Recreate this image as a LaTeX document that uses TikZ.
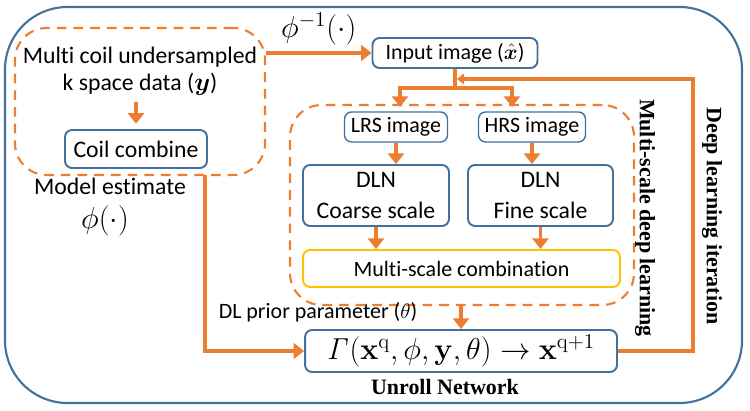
\documentclass[tikz,border=0pt]{standalone}
\usepackage{amsmath}
\usepackage{amssymb}
\usepackage{bm}
\usepackage[no-math]{fontspec}
\setmainfont{Carlito}[Ligatures=NoCommon]
\newfontfamily\tnr{Liberation Serif}
\usetikzlibrary{arrows.meta}
\definecolor{bblue}{RGB}{65,113,156}
\definecolor{orng}{RGB}{237,125,49}
\definecolor{ylw}{RGB}{255,192,0}
\tikzset{
  box/.style={draw=bblue,line width=1.1pt,rounded corners=4pt,align=center,inner sep=0pt},
  dbox/.style={draw=orng,line width=1.2pt,dash pattern=on 5.5pt off 4pt,rounded corners=18pt,inner sep=0pt},
  flow/.style={draw=orng,line width=2.2pt,-{Triangle[length=6pt,width=9pt]}},
  fback/.style={draw=orng,line width=2.2pt,-{Triangle[length=4pt,width=6pt]}},
  fline/.style={draw=orng,line width=2.2pt},
  big/.style={font=\fontsize{13.5}{15.5}\selectfont},
  small/.style={font=\fontsize{12.5}{15}\selectfont},
  mth/.style={font=\fontsize{16.5}{18}\selectfont},
  lbl/.style={font=\fontsize{12.5}{15}\selectfont\tnr\bfseries}
}
\begin{document}
\begin{tikzpicture}[x=0.02cm,y=-0.02cm]
      \useasboundingbox (0,0) rectangle (750,411);
      \draw[bblue,line width=1.2pt,rounded corners=1.25cm] (5,7) rectangle (742,403);
      \node[dbox,minimum width=5cm,minimum height=2.94cm] (est) at (140,101.5) {};
      \node[big,align=center] (dat) at (140,71) {Multi coil undersampled\\k space data ($\boldsymbol{y}$)};
      \node[box,big,minimum width=2.84cm,minimum height=0.76cm] (coil) at (136,149) {Coil combine};
      \draw[flow,shorten >=3pt] (coil.north |- dat.south) -- (coil.north);
      \node[big,inner sep=0.5pt] (mod) at (110,186) {Model estimate};
      \node[mth,inner sep=0.5pt] (phi) at (105,221) {$\phi(\cdot)$};
      \node[box,small,minimum width=3.3cm,minimum height=0.6cm] (inp) at (455,53) {Input image ($\hat{\boldsymbol{x}}$)};
      \draw[flow] (est.east |- inp.west) -- (inp.west) node[midway,above,mth] (inv) {$\phi^{-1}(\cdot)$};
      \coordinate (sp) at (455,88);
      \coordinate (lin) at (400,107);
      \coordinate (hin) at (512,107);
      \draw[fline] (inp.south) -- (sp);
      \draw[flow] (sp) -| (lin);
      \draw[flow] (sp) -| (hin);
      \node[dbox,minimum width=6.88cm,minimum height=4cm] (ms) at (462,205) {};
      \node[box,small,line width=0.8pt,minimum width=2.06cm,minimum height=0.6cm] (lrs) at (396,127) {LRS image};
      \node[box,small,line width=0.8pt,minimum width=2.14cm,minimum height=0.6cm] (hrs) at (532,127) {HRS image};
      \node[box,big,minimum width=2.92cm,minimum height=1.22cm] (crs) at (376,195.5) {DLN\\[2pt]Coarse scale};
      \node[box,big,minimum width=2.9cm,minimum height=1.22cm] (fin) at (540.5,195.5) {DLN\\[2pt]Fine scale};
      \node[box,draw=ylw,small,minimum width=6.34cm,minimum height=0.74cm] (cmb) at (461.5,268.5) {Multi-scale combination};
      \draw[flow] (lrs.south) -- (lrs.south |- crs.north);
      \draw[flow] (hrs.south) -- (hrs.south |- fin.north);
      \draw[flow] (crs.south) -- (crs.south |- cmb.north);
      \draw[flow] (fin.south) -- (fin.south |- cmb.north);
      \node[lbl,rotate=-90] (msl) at (645,218) {Multi-scale deep learning};
      \node[small] (dlp) at (318,312) {DL prior parameter ($\theta$)};
      \node[box,mth,minimum width=6.24cm,minimum height=0.84cm] (unr) at (461,351) {$\mathit{\Gamma}(\mathbf{x}^{\mathrm{q}},\phi,\mathbf{y},\theta)\rightarrow\mathbf{x}^{\mathrm{q+1}}$};
      \draw[flow] (unr.north |- ms.south) -- (unr.north);
      \node[lbl] (unl) at (445,387) {Unroll Network};
      \coordinate (ml) at (205,175);
      \draw[flow] (ml) |- (unr.west);
      \coordinate (rt) at (693,79);
      \coordinate (fb) at (457,79);
      \draw[fback] (unr.east) -| (rt) -- (fb);
      \node[lbl,rotate=-90] (dli) at (712,216) {Deep learning iteration};
\end{tikzpicture}
\end{document}
